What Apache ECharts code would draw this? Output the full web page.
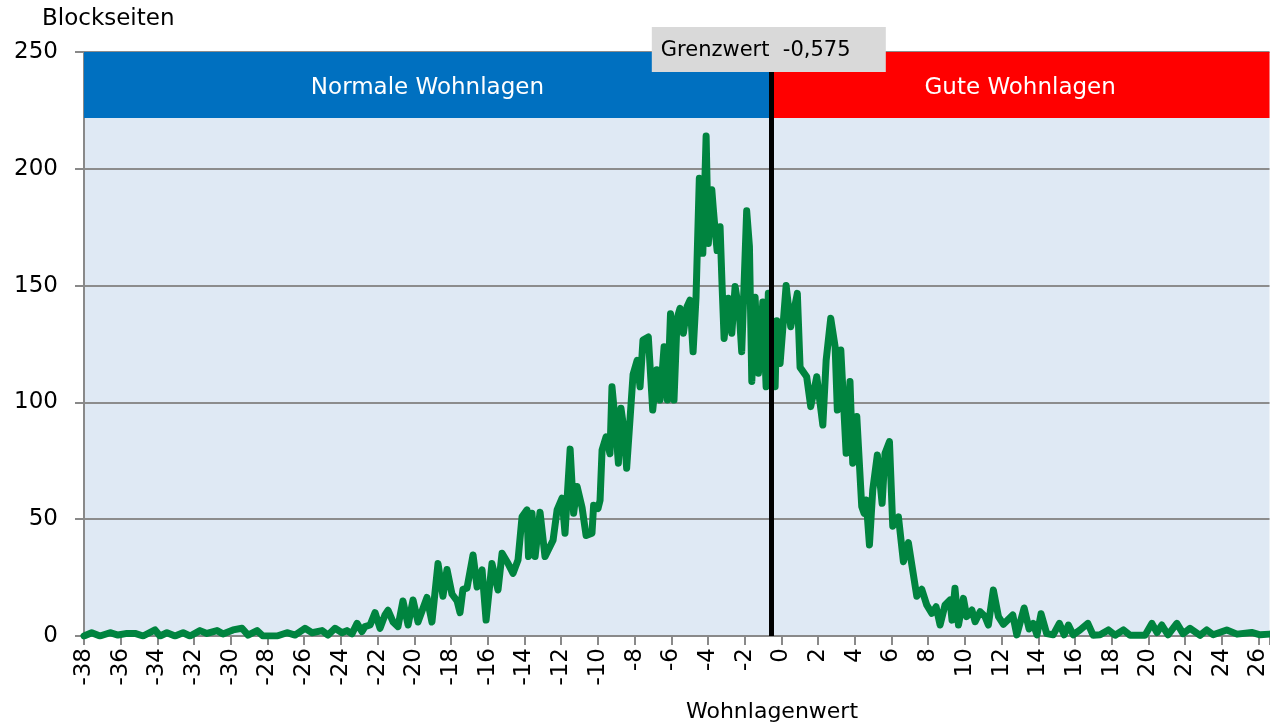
<!DOCTYPE html>
<html><head><meta charset="utf-8">
<script src="https://cdn.jsdelivr.net/npm/echarts@6/dist/echarts.min.js"></script>
<style>html,body{margin:0;padding:0;background:#fff}#c{width:1270px;height:725px}</style>
</head><body><div id="c"></div>
<script>
// Wohnlagenwert (x) and number of Blockseiten (y)
const wohnlagenwert = [-38,-37.58,-37.13,-36.58,-36.15,-35.66,-35.22,-34.78,-34.13,-33.86,
-33.48,-33.04,-32.6,-32.22,-31.68,-31.3,-30.75,-30.43,-29.88,-29.39,
-29.06,-28.57,-28.25,-27.48,-26.94,-26.5,-25.96,-25.57,-25.03,-24.7,
-24.32,-23.94,-23.67,-23.4,-23.12,-22.85,-22.69,-22.41,-22.14,-21.87,
-21.6,-21.43,-21.16,-20.89,-20.62,-20.34,-20.07,-19.8,-19.31,-19.04,
-18.71,-18.44,-18.22,-17.95,-17.67,-17.51,-17.35,-17.13,-16.8,-16.58,
-16.31,-16.09,-15.77,-15.44,-15.22,-14.89,-14.62,-14.35,-14.13,-13.86,
-13.78,-13.59,-13.42,-13.15,-12.88,-12.44,-12.22,-11.95,-11.79,-11.51,
-11.32,-11.13,-10.86,-10.64,-10.32,-10.23,-9.99,-9.88,-9.77,-9.55,
-9.34,-9.23,-9.06,-8.88,-8.74,-8.57,-8.43,-8.25,-8.08,-7.86,
-7.7,-7.54,-7.25,-7.01,-6.79,-6.61,-6.39,-6.21,-6.04,-5.85,
-5.68,-5.52,-5.34,-5.14,-4.98,-4.81,-4.65,-4.47,-4.28,-4.1,
-3.98,-3.79,-3.71,-3.61,-3.5,-3.34,-3.23,-3.12,-2.89,-2.7,
-2.52,-2.29,-2.16,-1.89,-1.74,-1.61,-1.43,-1.25,-1.01,-0.83,
-0.71,-0.56,-0.34,-0.25,-0.07,0.26,0.51,0.87,1.02,1.38,
1.6,1.93,2.26,2.44,2.69,2.93,3.05,3.24,3.53,3.74,
3.89,4.11,4.38,4.51,4.62,4.8,4.98,5.23,5.49,5.65,
5.89,6.07,6.38,6.65,6.92,7.12,7.38,7.65,7.92,8.2,
8.43,8.65,8.92,9.19,9.3,9.46,9.65,9.92,10.1,10.38,
10.56,10.83,11.1,11.28,11.55,11.83,12.1,12.61,12.83,13.23,
13.5,13.72,13.93,14.15,14.46,14.81,15.15,15.41,15.64,15.9,
16.28,16.7,16.99,17.37,17.82,18.19,18.64,19,19.82,20.19,
20.47,20.73,21.07,21.55,21.89,22.27,22.82,23.18,23.53,24.27,
24.83,25.63,26.09,26.6];

const blockseiten = [0,1.4,0,1.4,0.4,1.1,1.1,0,2.6,0,
1.4,0,1.4,0,2.3,1.1,2.3,0.9,2.6,3.3,
0.4,2.3,0,0,1.4,0.4,3.3,1.4,2.3,0.4,
3.3,1.4,2.3,0.9,5.4,1.9,4,4.7,10,3.3,
9,11,6,4,15,4.7,15.4,6,16.5,6,
31,17,28.5,18,15,10,20,20.5,34.7,21,
28.3,6.8,31,19.7,35.4,31,26.8,32.5,51,54,
34,52.5,34,53,34,41,54,59,44,80,
52.5,64,55,43,44,56,54.6,58,79.6,85.3,
78,106.7,92.5,74,97.5,88,71.8,92.5,112,118,
106.7,126.7,128,96.7,114,101,123.8,101,138,101,
136,140.3,129.6,141,143.8,121.7,145,196,163.8,214,
168,191,183,173.8,165,175.2,150,127.4,144.6,129.6,
149.6,138,121.7,182,166.7,109,145,112.5,143,106.7,
146.7,125,106.7,135,116.7,150,132.4,146.7,115,111,
98.2,111,90.3,118,136,123.8,96.7,122.4,78.2,108.9,
74,94,55.4,52.5,58.2,39,62.5,77.5,56.8,78.2,
83.2,47,51,31.8,40,30,17,20,13.3,9.7,
12.5,4.7,13.3,15.4,6.8,20.4,4.7,16.1,8.3,11.1,
6.1,10.4,8.3,4.7,19.7,8.3,5,9,0.5,12,
3,5.4,0.5,9.5,1,0.5,5.4,0.5,4.7,0.5,
2.6,5.4,0.3,0.5,2.6,0.3,2.6,0.3,0.3,5.4,
1.5,4.7,0.5,5.4,1,3.3,0.3,2.6,0.5,2.6,
0.8,1.5,0.5,0.8];

const grenzwert = -0.575;
const grenzwertLabel = 'Grenzwert  -0,575';
const bandLabels = ['Normale Wohnlagen', 'Gute Wohnlagen'];
const bandRange = [221.7, 250];
const xRange = [-38, 26.6];
const yRange = [0, 250];
const xAxisName = 'Wohnlagenwert';
const yAxisName = 'Blockseiten';

const FONT = '"DejaVu Sans", Verdana, sans-serif';
const chart = echarts.init(document.getElementById('c'), null, {renderer: 'canvas'});
const seriesData = wohnlagenwert.map((x, i) => [x, blockseiten[i]]);

const option = {
  animation: false,
  grid: {left: 84, right: 0, top: 52, bottom: 89, show: true, backgroundColor: '#dfe9f4', borderWidth: 0},
  xAxis: {
    type: 'value', min: xRange[0], max: xRange[1], interval: 2,
    axisLine: {show: true, onZero: false, lineStyle: {color: '#898989', width: 2}},
    axisTick: {show: true, length: 9, lineStyle: {color: '#898989', width: 2}},
    axisLabel: {rotate: 90, fontSize: 23, color: '#000', fontFamily: FONT, margin: 12,
      formatter: v => (Math.abs(v - Math.round(v)) < 1e-6 && Math.round(v) % 2 === 0) ? String(Math.round(v)) : ''},
    splitLine: {show: false}
  },
  yAxis: {
    type: 'value', min: yRange[0], max: yRange[1], interval: 50,
    axisLine: {show: true, onZero: false, lineStyle: {color: '#898989', width: 2}},
    axisTick: {show: true, length: 9, lineStyle: {color: '#898989', width: 2}},
    axisLabel: {fontSize: 23, color: '#000', fontFamily: FONT, margin: 26},
    splitLine: {show: true, lineStyle: {color: '#8c8c8c', width: 2}}
  },
  series: [{
    type: 'line', data: seriesData, showSymbol: false, symbol: 'none', silent: true,
    lineStyle: {color: '#00843f', width: 7, join: 'round', cap: 'round'},
    z: 3,
    markArea: {
      silent: true,
      label: {show: true, position: 'inside', color: '#fff', fontSize: 23, fontFamily: FONT, offset: [0, 3]},
      data: [
        [{name: bandLabels[0], xAxis: xRange[0], yAxis: bandRange[0], itemStyle: {color: '#0070c0'}}, {xAxis: grenzwert, yAxis: bandRange[1]}],
        [{name: bandLabels[1], xAxis: grenzwert, yAxis: bandRange[0], itemStyle: {color: '#ff0000'}}, {xAxis: xRange[1], yAxis: bandRange[1]}]
      ]
    },
    markLine: {
      silent: true, symbol: 'none', animation: false,
      label: {show: false},
      lineStyle: {color: '#000', width: 5, type: 'solid'},
      data: [{xAxis: grenzwert}]
    }
  }]
};
chart.setOption(option);

const px = chart.convertToPixel({xAxisIndex: 0}, grenzwert);
chart.setOption({
  graphic: [
    {type: 'text', left: 42, top: 8, z: 10, style: {text: yAxisName, font: '23px ' + FONT, fill: '#000'}},
    {type: 'text', x: 772, y: 712, z: 10, style: {text: xAxisName, font: '22px ' + FONT, fill: '#000', align: 'center', verticalAlign: 'middle'}},
    {type: 'rect', z: 20, shape: {x: px - 119, y: 27, width: 234, height: 45}, style: {fill: '#d9d9d9'}},
    {type: 'text', z: 21, x: px - 110, y: 51, style: {text: grenzwertLabel, font: '21px ' + FONT, fill: '#000', verticalAlign: 'middle'}}
  ]
});
</script>
</body></html>
